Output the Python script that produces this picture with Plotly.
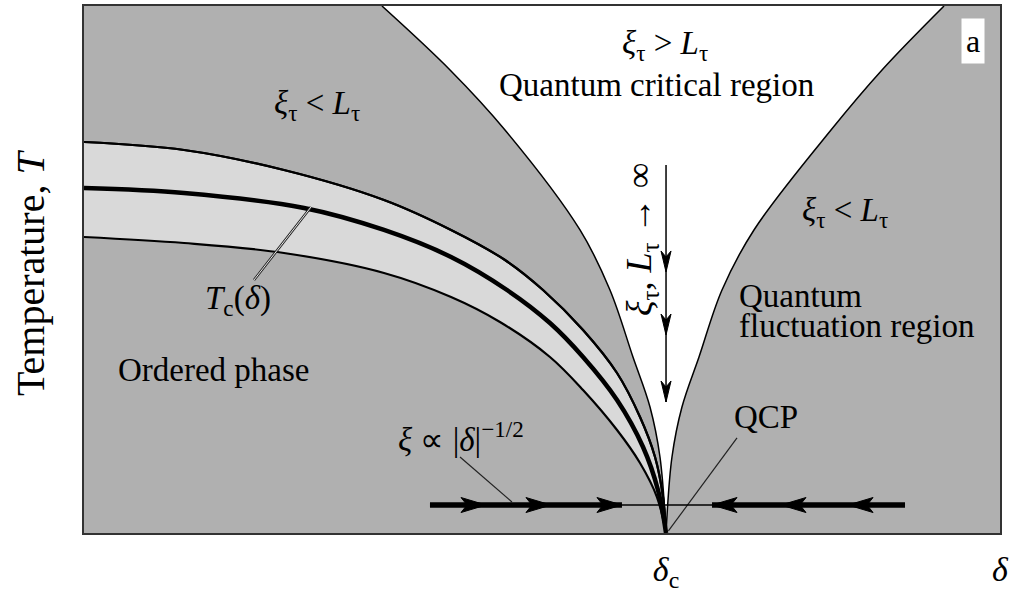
import plotly.graph_objects as go

# ---------------- data (schematic units: delta 0..10, T 0..10) ----------------
delta_c = 6.354
x_range = [0.0, 10.0]
t_range = [0.0, 10.0]

# Tc(delta) band: upper edge, Tc line, lower edge
tc_upper_delta = [0.0, 1.092, 2.183, 3.275, 4.007, 4.596, 5.011, 5.448, 5.819, 6.070, 6.234, 6.321, 6.354]
tc_upper_T = [7.419, 7.268, 6.888, 6.319, 5.750, 5.180, 4.611, 3.852, 3.036, 2.201, 1.442, 0.683, 0.0]
tc_delta = [0.0, 1.092, 2.402, 3.275, 4.007, 4.618, 5.087, 5.448, 5.819, 6.103, 6.266, 6.354]
tc_T = [6.546, 6.452, 6.167, 5.750, 5.237, 4.611, 3.985, 3.340, 2.524, 1.632, 0.816, 0.0]
tc_lower_delta = [0.0, 1.092, 2.183, 3.275, 4.007, 4.541, 5.087, 5.448, 5.819, 6.070, 6.255, 6.354]
tc_lower_T = [5.617, 5.503, 5.313, 4.934, 4.478, 4.004, 3.340, 2.713, 1.954, 1.328, 0.683, 0.0]

# crossover lines bounding the quantum critical region (ordered by T)
qc_T = [0.0, 1.442, 2.391, 3.340, 4.611, 5.750, 7.647, 8.786, 10.0]
qc_left_delta = [6.354, 6.288, 6.179, 5.993, 5.742, 5.415, 4.596, 3.996, 3.253]
qc_right_delta = [6.354, 6.419, 6.528, 6.714, 6.965, 7.314, 8.155, 8.712, 9.389]

# flow at low T (xi ~ |delta|^-1/2)
flow_T = 0.531
flow_left_delta = [3.777, 5.873]
flow_mid_delta = [5.873, 6.856]
flow_right_delta = [6.856, 8.963]
flow_right_tips = [4.389, 5.098, 5.873]   # arrows pointing to +delta
flow_left_tips = [6.856, 7.609, 8.341]    # arrows pointing to -delta

# vertical arrow xi_tau, L_tau -> infinity
vert_T = [6.983, 2.486]
vert_tips = [4.953, 3.757, 2.486]

# leader lines
tc_leader_delta = [2.478, 1.856]
tc_leader_T = [6.186, 4.801]
xi_leader_delta = [4.105, 4.672]
xi_leader_T = [1.442, 0.588]
qcp_leader_delta = [7.129, 6.38]
qcp_leader_T = [1.803, 0.04]

tick_vals = [delta_c, 10.0]
tick_text = ["<i>δ</i><sub>c</sub>", "<i>δ</i>"]

# ---------------- styling ----------------
W, H = 1010, 594
L_MARGIN, R_MARGIN, T_MARGIN, B_MARGIN = 84, 10, 6, 61
px_x = (x_range[1] - x_range[0]) / (W - L_MARGIN - R_MARGIN)
px_y = (t_range[1] - t_range[0]) / (H - T_MARGIN - B_MARGIN)
FONT = "Liberation Serif, Times New Roman, serif"
GRAY = "#b0b0b0"
LIGHT = "#d9d9d9"
SPL = dict(shape="spline", smoothing=1.0)

fig = go.Figure()

# quantum critical (white) region
fig.add_trace(go.Scatter(x=qc_left_delta, y=qc_T, mode="lines",
                         line=dict(color="black", width=1.5, **SPL)))
fig.add_trace(go.Scatter(x=qc_right_delta, y=qc_T, mode="lines", fill="tonextx",
                         fillcolor="white", line=dict(color="black", width=1.5, **SPL)))

# Tc band
fig.add_trace(go.Scatter(x=tc_upper_delta, y=tc_upper_T, mode="lines",
                         line=dict(color="black", width=2.2, **SPL)))
fig.add_trace(go.Scatter(x=tc_lower_delta, y=tc_lower_T, mode="lines", fill="tonexty",
                         fillcolor=LIGHT, line=dict(color="black", width=2.2, **SPL)))
fig.add_trace(go.Scatter(x=tc_upper_delta, y=tc_upper_T, mode="lines",
                         line=dict(color="black", width=2.2, **SPL)))
fig.add_trace(go.Scatter(x=tc_delta, y=tc_T, mode="lines",
                         line=dict(color="black", width=4.5, **SPL)))

# leader lines
fig.add_trace(go.Scatter(x=tc_leader_delta, y=tc_leader_T, mode="lines",
                         line=dict(color="#222", width=2.6)))
fig.add_trace(go.Scatter(x=tc_leader_delta, y=tc_leader_T, mode="lines",
                         line=dict(color="#e8e8e8", width=1.0)))
for lx, ly in [(xi_leader_delta, xi_leader_T), (qcp_leader_delta, qcp_leader_T)]:
    fig.add_trace(go.Scatter(x=lx, y=ly, mode="lines", line=dict(color="#222", width=1.2)))

# low-T flow lines
fig.add_trace(go.Scatter(x=flow_mid_delta, y=[flow_T] * 2, mode="lines",
                         line=dict(color="black", width=1.5)))
for seg in (flow_left_delta, flow_right_delta):
    fig.add_trace(go.Scatter(x=seg, y=[flow_T] * 2, mode="lines",
                             line=dict(color="black", width=5.5)))

# arrowheads (horizontal)
HL, HN, HW = 25 * px_x, 19 * px_x, 7.5 * px_y
hx, hy = [], []
for tips, d in ((flow_right_tips, 1), (flow_left_tips, -1)):
    for t in tips:
        hx += [t, t - d * HL, t - d * HN, t - d * HL, t, None]
        hy += [flow_T, flow_T + HW, flow_T, flow_T - HW, flow_T, None]
fig.add_trace(go.Scatter(x=hx, y=hy, mode="lines", fill="toself", fillcolor="black",
                         line=dict(color="black", width=1)))

# vertical arrow
fig.add_trace(go.Scatter(x=[delta_c, delta_c], y=vert_T, mode="lines",
                         line=dict(color="black", width=1.5)))
VL, VN, VW = 21 * px_y, 15 * px_y, 5 * px_x
vx, vy = [], []
for t in vert_tips:
    vx += [delta_c, delta_c + VW, delta_c, delta_c - VW, delta_c, None]
    vy += [t, t + VL, t + VN, t + VL, t, None]
fig.add_trace(go.Scatter(x=vx, y=vy, mode="lines", fill="toself", fillcolor="black",
                         line=dict(color="black", width=1)))

fig.update_traces(hoverinfo="skip", showlegend=False)

# ---------------- labels ----------------
def ann(x, y, text, size=33, **kw):
    d = dict(x=x, y=y, xref="x", yref="y", text=text, showarrow=False, xanchor="center",
             font=dict(family=FONT, size=size, color="black"))
    d.update(kw)
    fig.add_annotation(**d)

ann(2.544, 8.121, "<i>ξ</i><sub>τ</sub> &lt; <i>L</i><sub>τ</sub>")
ann(6.343, 9.260, "<i>ξ</i><sub>τ</sub> &gt; <i>L</i><sub>τ</sub>")
ann(6.245, 8.501, "Quantum critical region")
ann(8.308, 6.091, "<i>ξ</i><sub>τ</sub> &lt; <i>L</i><sub>τ</sub>")
ann(7.129, 4.500, "Quantum", xanchor="left")
ann(7.129, 3.920, "fluctuation region", xanchor="left")
ann(1.681, 4.421, "<i>T</i><sub>c</sub>(<i>δ</i>)")
ann(1.419, 3.093, "Ordered phase")
ann(4.116, 1.822, "<i>ξ</i> ∝ |<i>δ</i>|<sup>−1/2</sup>")
ann(7.445, 2.201, "QCP")
ann(6.092, 5.560, "<i>ξ</i><sub>τ</sub>, <i>L</i><sub>τ</sub> → ∞", size=36, textangle=-90)
ann(9.705, 9.336, "a", size=32, bgcolor="white", borderpad=4)
fig.add_annotation(x=-0.059, y=0.495, xref="paper", yref="paper", showarrow=False,
                   xanchor="center", yanchor="middle",
                   text="Temperature, <i>T</i>", textangle=-90,
                   font=dict(family=FONT, size=40, color="black"))

fig.update_layout(
    width=W, height=H,
    margin=dict(l=L_MARGIN, r=R_MARGIN, t=T_MARGIN, b=B_MARGIN, autoexpand=False),
    paper_bgcolor="white", plot_bgcolor=GRAY,
    xaxis=dict(range=x_range, showgrid=False, zeroline=False, showline=True, mirror=True,
               linecolor="#333", linewidth=2, ticks="", tickvals=tick_vals, ticktext=tick_text,
               automargin=False, ticklabelstandoff=5,
               tickfont=dict(family=FONT, size=34, color="black")),
    yaxis=dict(range=t_range, showgrid=False, zeroline=False, showline=True, mirror=True,
               linecolor="#333", linewidth=2, ticks="", showticklabels=False, automargin=False),
)

fig.write_html("out.html")
